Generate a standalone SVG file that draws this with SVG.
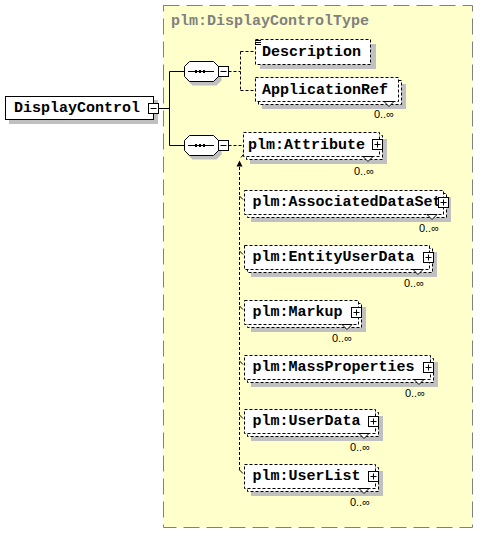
<svg xmlns="http://www.w3.org/2000/svg" xmlns:xlink="http://www.w3.org/1999/xlink" width="479" height="534" viewBox="0 0 479 534">
<style>
.yel{fill:#ffffcc;stroke:#808080;stroke-dasharray:16 7}
.sh{fill:#c0c0c0;stroke:none}
.box{fill:#fff;stroke:#000}
.dbox{fill:#fff;stroke:#000;stroke-dasharray:3 2}
.ln{stroke:#000;fill:none}
.dl{stroke:#000;fill:none;stroke-dasharray:3 2}
.lbl{font-family:"Liberation Mono","Courier New",monospace;font-weight:bold;font-size:15px;fill:#000}
.ttl{font-family:"Liberation Mono","Courier New",monospace;font-weight:bold;font-size:15px;fill:#808080}
.occ{font-family:"Liberation Sans",Arial,sans-serif;font-size:11px;fill:#000}
.notch{fill:#fff;stroke:#000}
</style>
<defs>
<g id="plus"><rect x="0.5" y="0.5" width="10" height="10" class="box"/><path d="M2.5 5.5h6M5.5 2.5v6" class="ln"/></g>
<g id="minus"><rect x="0.5" y="0.5" width="10" height="10" class="box"/><path d="M2.5 5.5h6" class="ln"/></g>
<g id="seq">
<polygon points="187.5,64.5 211.5,64.5 216.5,69.5 216.5,79.5 211.5,84.5 187.5,84.5 182.5,79.5 182.5,69.5" class="sh" transform="translate(5,1)"/>
<polygon points="189.5,61.5 213.5,61.5 218.5,66.5 218.5,76.5 213.5,81.5 189.5,81.5 184.5,76.5 184.5,66.5" class="box"/>
<path d="M188 71.5H214" class="ln"/>
<rect x="195" y="70" width="2" height="3"/><rect x="199" y="70" width="2" height="3"/><rect x="203" y="70" width="2" height="3"/>
</g>
</defs>

<g id="complexType">
<rect x="163.5" y="5.5" width="309" height="522" class="yel"/>
<text x="171" y="25" class="ttl">plm:DisplayControlType</text>
</g>

<g id="connectors">
<path d="M158.5 108.5H169.5M169.5 71.5V145.5M169.5 71.5H184.5M169.5 145.5H184.5" class="ln"/>
<path d="M228.5 71.5H240.5M240.5 51.5V90.5M240.5 51.5H255M240.5 90.5H255" class="dl"/>
<path d="M228.5 145.5H243M239.5 167V471" class="dl"/>
<path d="M239.5 196L243 199.5M239.5 251L243 254.5M239.5 306L243 309.5M239.5 361L243 364.5M239.5 415L243 418.5M239.5 470L243 473.5" class="ln"/>
<polygon points="239.5,160.5 242.5,166.5 236.5,166.5" fill="#000"/>
<path d="M241 157.5L245 152.5" class="ln"/>
<polygon points="247.5,149.5 242.5,151.5 246,154.5" fill="#000"/>
</g>

<g id="DisplayControl">
<rect x="9" y="100" width="149" height="24" class="sh"/>
<rect x="5.5" y="96.5" width="148" height="23" class="box"/>
<text x="14" y="112" class="lbl">DisplayControl</text>
<use xlink:href="#minus" transform="translate(148,103)"/>
</g>

<g id="sequence1">
<use xlink:href="#seq"/>
<use xlink:href="#minus" transform="translate(218,66)"/>
</g>

<g id="sequence2">
<use xlink:href="#seq" transform="translate(0,74)"/>
<use xlink:href="#minus" transform="translate(218,140)"/>
</g>

<g id="Description">
<rect x="260" y="44" width="116" height="25" class="sh"/>
<rect x="255.5" y="39.5" width="115" height="25" class="dbox"/>
<path d="M255 40.5h6M255 42.5h6M255 44.5h6" class="ln"/>
<text x="262" y="56" class="lbl">Description</text>
</g>

<g id="ApplicationRef">
<rect x="262" y="84" width="144" height="25" class="sh"/>
<rect x="258.5" y="80.5" width="143" height="24" class="dbox"/>
<rect x="255.5" y="77.5" width="143" height="24" class="dbox"/>
<polygon points="384,101.5 389,106.5 394,101.5" class="notch"/>
<text x="262" y="94" class="lbl">ApplicationRef</text>
<text x="394" y="118" class="occ" text-anchor="end">0..∞</text>
</g>

<g id="Attribute">
<rect x="250" y="139" width="137" height="25" class="sh"/>
<rect x="246.5" y="135.5" width="136" height="24" class="dbox"/>
<rect x="243.5" y="132.5" width="136" height="24" class="dbox"/>
<polygon points="363,156.5 368,161.5 373,156.5" class="notch"/>
<text x="248" y="148.5" class="lbl">plm:Attribute</text>
<use xlink:href="#plus" transform="translate(372,139)"/>
<text x="374" y="175" class="occ" text-anchor="end">0..∞</text>
</g>

<g id="AssociatedDataSet">
<rect x="251" y="197" width="200" height="25" class="sh"/>
<rect x="247.5" y="193.5" width="199" height="24" class="dbox"/>
<rect x="244.5" y="190.5" width="199" height="24" class="dbox"/>
<polygon points="427,214.5 432,219.5 437,214.5" class="notch"/>
<text x="252.5" y="206" class="lbl">plm:AssociatedDataSet</text>
<use xlink:href="#plus" transform="translate(438,197)"/>
<text x="439" y="232" class="occ" text-anchor="end">0..∞</text>
</g>

<g id="EntityUserData">
<rect x="251" y="252" width="186" height="25" class="sh"/>
<rect x="247.5" y="248.5" width="185" height="24" class="dbox"/>
<rect x="244.5" y="245.5" width="185" height="24" class="dbox"/>
<polygon points="413,269.5 418,274.5 423,269.5" class="notch"/>
<text x="252.5" y="261" class="lbl">plm:EntityUserData</text>
<use xlink:href="#plus" transform="translate(423,252)"/>
<text x="424" y="287" class="occ" text-anchor="end">0..∞</text>
</g>

<g id="Markup">
<rect x="251" y="307" width="115" height="25" class="sh"/>
<rect x="247.5" y="303.5" width="114" height="24" class="dbox"/>
<rect x="244.5" y="300.5" width="114" height="24" class="dbox"/>
<polygon points="342,324.5 347,329.5 352,324.5" class="notch"/>
<text x="252.5" y="316" class="lbl">plm:Markup</text>
<use xlink:href="#plus" transform="translate(351,307)"/>
<text x="352" y="341.5" class="occ" text-anchor="end">0..∞</text>
</g>

<g id="MassProperties">
<rect x="251" y="362" width="187" height="25" class="sh"/>
<rect x="247.5" y="358.5" width="186" height="24" class="dbox"/>
<rect x="244.5" y="355.5" width="186" height="24" class="dbox"/>
<polygon points="414,379.5 419,384.5 424,379.5" class="notch"/>
<text x="252.5" y="371" class="lbl">plm:MassProperties</text>
<use xlink:href="#plus" transform="translate(423,362)"/>
<text x="425" y="396.5" class="occ" text-anchor="end">0..∞</text>
</g>

<g id="UserData">
<rect x="251" y="416" width="132" height="25" class="sh"/>
<rect x="247.5" y="412.5" width="131" height="24" class="dbox"/>
<rect x="244.5" y="409.5" width="131" height="24" class="dbox"/>
<polygon points="359,433.5 364,438.5 369,433.5" class="notch"/>
<text x="252.5" y="425" class="lbl">plm:UserData</text>
<use xlink:href="#plus" transform="translate(368,416)"/>
<text x="370" y="451" class="occ" text-anchor="end">0..∞</text>
</g>

<g id="UserList">
<rect x="251" y="471" width="132" height="25" class="sh"/>
<rect x="247.5" y="467.5" width="131" height="24" class="dbox"/>
<rect x="244.5" y="464.5" width="131" height="24" class="dbox"/>
<polygon points="359,488.5 364,493.5 369,488.5" class="notch"/>
<text x="252.5" y="480" class="lbl">plm:UserList</text>
<use xlink:href="#plus" transform="translate(368,471)"/>
<text x="370" y="506" class="occ" text-anchor="end">0..∞</text>
</g>
</svg>
